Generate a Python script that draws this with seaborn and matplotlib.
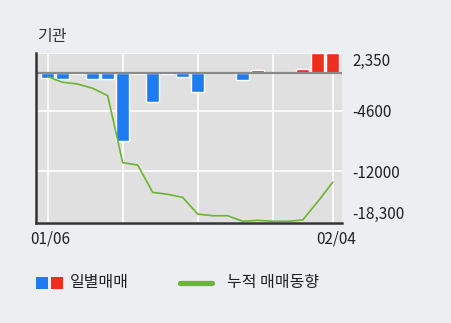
import matplotlib
matplotlib.use("Agg")
import matplotlib.pyplot as plt
import matplotlib.transforms as mtransforms
import seaborn as sns
import pandas as pd
import numpy as np
from matplotlib.patches import Rectangle
from matplotlib.lines import Line2D

dates = ["01/06", "01/07", "01/08", "01/09", "01/10", "01/13", "01/14", "01/15", "01/16", "01/17",
         "01/20", "01/21", "01/22", "01/23", "01/28", "01/29", "01/30", "01/31", "02/03", "02/04"]
daily = [-615, -770, -150, -770, -770, -8270, -200, -3530, -150, -490,
         -2320, 0, 0, -860, 380, 0, 0, 480, 2350, 2350]
cumulative = [-490, -1170, -1380, -1900, -2800, -10940, -11220, -14540, -14780, -15150,
              -17180, -17380, -17380, -18060, -17940, -18060, -18060, -17900, -15680, -13320]
ytick_vals = [2350, -4600, -12000, -18300]
ytick_labels = ["2,350", "-4600", "-12000", "-18,300"]
xtick_labels = {0: "01/06", 19: "02/04"}

sns.set_theme(style="white")
plt.rcParams['font.family'] = ['Noto Sans CJK KR', 'DejaVu Sans']

BG = "#eceef2"
PLOT_BG = "#e0e0e0"
BLUE = "#1f7cf0"
RED = "#ee2e1c"
GREEN = "#6cb52e"

fig = plt.figure(figsize=(4.51, 3.23), dpi=100, facecolor=BG)
ax = fig.add_axes([36/451, 1-223.3/323, (342.3-36)/451, (223.3-53.3)/323])
ax.set_facecolor(PLOT_BG)

df = pd.DataFrame({"date": dates, "val": daily,
                   "sign": ["pos" if v > 0 else "neg" for v in daily],
                   "idx": np.arange(len(dates)), "cum": cumulative})

sns.barplot(data=df, x="date", y="val", hue="sign", palette={"pos": RED, "neg": BLUE},
            dodge=False, width=0.87, legend=False, ax=ax, zorder=3, saturation=1)
sns.lineplot(data=df, x="idx", y="cum", color=GREEN, lw=1.2, ax=ax, zorder=5)

ax.axhline(0, color="#8a8a8a", lw=1.6, zorder=4)

ax.set_xlim(-0.78, 19.64)
ax.set_ylim(-18300, 2350)
ax.set_xticks([0, 5, 10, 15, 19])
ax.set_xticklabels([xtick_labels.get(i, "") for i in [0, 5, 10, 15, 19]], fontsize=11, color="#222222")
ax.set_yticks(ytick_vals)
ax.set_yticklabels(ytick_labels, fontsize=11, color="#222222")
ax.yaxis.tick_right()
ax.tick_params(axis="y", length=0, pad=7)
ax.tick_params(axis="x", length=0, pad=5)
yl = ax.get_yticklabels()
yl[0].set_verticalalignment("top")
yl[3].set_verticalalignment("bottom")
shift = mtransforms.ScaledTranslation(3/100, 0, fig.dpi_scale_trans)
for lab in ax.get_xticklabels():
    lab.set_transform(lab.get_transform() + shift)
ax.grid(True, color="white", lw=1.2, zorder=0)
ax.set_axisbelow(True)
ax.set_xlabel("")
ax.set_ylabel("")
for s in ["top", "right"]:
    ax.spines[s].set_visible(False)
for s in ["left", "bottom"]:
    ax.spines[s].set_color("#333333")
    ax.spines[s].set_linewidth(1.8)
    ax.spines[s].set_zorder(6)

fig.text(37/451, 1-36.7/323, "기관", fontsize=11.5, color="#333333", va="center", ha="left")

# legend
fig.patches.append(Rectangle((36/451, 1-289/323), 11.5/451, 12/323, transform=fig.transFigure,
                             facecolor=BLUE, edgecolor="none"))
fig.patches.append(Rectangle((51/451, 1-289/323), 11.5/451, 12/323, transform=fig.transFigure,
                             facecolor=RED, edgecolor="none"))
fig.text(70/451, 1-282.5/323, "일별매매", fontsize=11.5, color="#222222", va="center", ha="left")
fig.lines.append(Line2D([180/451, 212/451], [1-282.5/323, 1-282.5/323], transform=fig.transFigure,
                        color=GREEN, lw=3.8))
fig.text(227/451, 1-282.5/323, "누적 매매동향", fontsize=11.5, color="#222222", va="center", ha="left")

fig.savefig("out.png", dpi=100, facecolor=BG)
